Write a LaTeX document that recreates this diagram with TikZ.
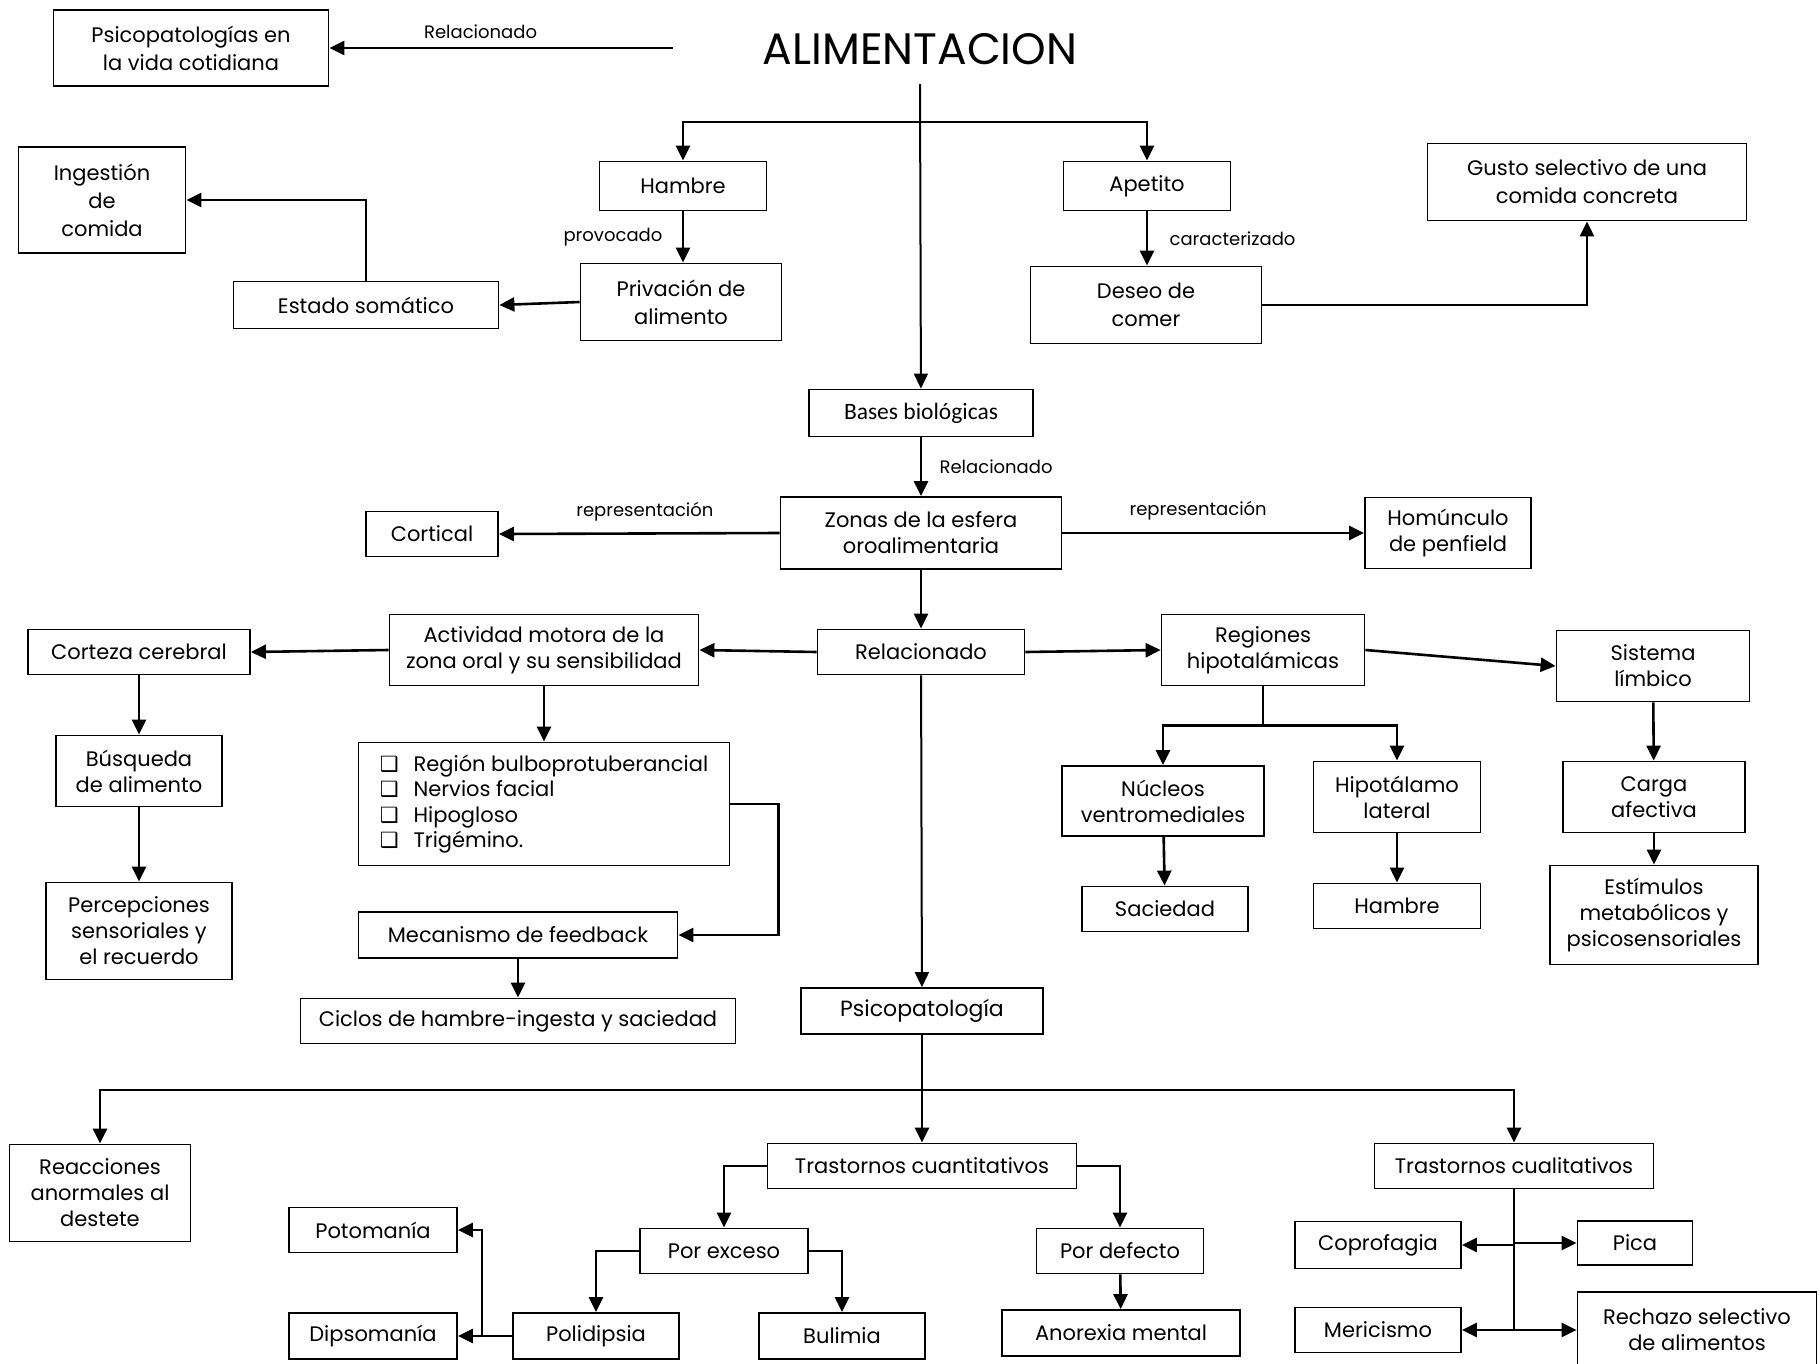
\documentclass[tikz,border=0pt]{standalone}
\usepackage{fontspec}
\setmainfont{Poppins}
\newfontfamily\carlito{Carlito}
\newfontfamily\simbolos{DejaVu Sans}
\usetikzlibrary{arrows.meta}

\tikzset{
  caja/.style={draw, line width=1.8pt, align=center, inner sep=2pt, font=\fontsize{21}{28}\selectfont},
  etiqueta/.style={font=\fontsize{18}{21}\selectfont},
  flecha/.style={line width=2.6pt, -{Triangle[length=15pt,width=14pt]}},
  linea/.style={line width=2.6pt},
}
\newcommand{\cuadro}{{\simbolos\fontsize{21}{21}\selectfont ❑}\hspace{15pt}}

\begin{document}
\begin{tikzpicture}[x=1pt,y=-1pt]
	\useasboundingbox (0,0) rectangle (1820,1363);
	%% titulo y parte de arriba
	\node[font=\fontsize{44}{50}\selectfont] (titulo) at (920,49) {ALIMENTACION};
	\node[caja, minimum width=275, minimum height=76] (psicovida) at (191,48) {Psicopatologías en\\la vida cotidiana};
	\node[caja, minimum width=167, minimum height=49] (hambre) at (683,186) {Hambre};
	\node[caja, minimum width=167, minimum height=49] (apetito) at (1147,186) {Apetito};
	\node[caja, minimum width=201, minimum height=77] (privacion) at (681,302) {Privación de\\alimento};
	\node[caja, minimum width=265, minimum height=47] (estado) at (366,305) {Estado somático};
	\node[caja, minimum width=167, minimum height=106] (ingestion) at (102,200) {Ingestión\\de\\comida};
	\node[caja, minimum width=231, minimum height=77] (deseo) at (1146,305) {Deseo de\\comer};
	\node[caja, minimum width=319, minimum height=77] (gusto) at (1587,182) {Gusto selectivo de una\\comida concreta};
	\node[caja, minimum width=224, minimum height=47, font=\carlito\fontsize{23.5}{27}\selectfont] (bases) at (921,413) {Bases biológicas};
	%% zonas de la esfera
	\node[caja, minimum width=281, minimum height=72, font=\fontsize{21}{26}\selectfont] (zonas) at (921,533) {Zonas de la esfera\\oroalimentaria};
	\node[caja, minimum width=132, minimum height=45] (cortical) at (432,534) {Cortical};
	\node[caja, minimum width=166, minimum height=71, font=\fontsize{21}{26}\selectfont] (homunculo) at (1448,533) {Homúnculo\\de penfield};
	\node[caja, minimum width=207, minimum height=45] (relac) at (921,652) {Relacionado};
	%% lado izquierdo
	\node[caja, minimum width=309, minimum height=71, font=\fontsize{21}{26}\selectfont] (actividad) at (544,650) {Actividad motora de la\\zona oral y su sensibilidad};
	\node[caja, minimum width=222, minimum height=45] (corteza) at (139,652) {Corteza cerebral};
	\node[caja, minimum width=166, minimum height=71, font=\fontsize{21}{26}\selectfont] (busqueda) at (139,771) {Búsqueda\\de alimento};
	\node[caja, minimum width=186, minimum height=97, font=\fontsize{21}{26}\selectfont] (percepciones) at (139,931) {Percepciones\\sensoriales y\\el recuerdo};
	\node[caja, minimum width=371, minimum height=123, align=left, font=\fontsize{21}{25.5}\selectfont] (lista) at (544,804)
	{\cuadro Región bulboprotuberancial\\\cuadro Nervios facial\\\cuadro Hipogloso\\\cuadro Trigémino.};
	\node[caja, minimum width=319, minimum height=46] (feedback) at (518,935) {Mecanismo de feedback};
	\node[caja, minimum width=435, minimum height=45] (ciclos) at (518,1021) {Ciclos de hambre-ingesta y saciedad};
	%% lado derecho
	\node[caja, minimum width=203, minimum height=71, font=\fontsize{21}{26}\selectfont] (regiones) at (1263,650) {Regiones\\hipotalámicas};
	\node[caja, minimum width=193, minimum height=71, font=\fontsize{21}{26}\selectfont] (limbico) at (1653,666) {Sistema\\límbico};
	\node[caja, minimum width=202, minimum height=70, font=\fontsize{21}{26}\selectfont] (nucleos) at (1163,801) {Núcleos\\ventromediales};
	\node[caja, minimum width=167, minimum height=71, font=\fontsize{21}{26}\selectfont] (hipotalamo) at (1397,797) {Hipotálamo\\lateral};
	\node[caja, minimum width=166, minimum height=45] (saciedad) at (1165,909) {Saciedad};
	\node[caja, minimum width=167, minimum height=45] (hambreb) at (1397,906) {Hambre};
	\node[caja, minimum width=182, minimum height=71, font=\fontsize{21}{26}\selectfont] (carga) at (1654,797) {Carga\\afectiva};
	\node[caja, minimum width=208, minimum height=99, font=\fontsize{21}{26}\selectfont] (estimulos) at (1654,915) {Estímulos\\metabólicos y\\psicosensoriales};
	%% psicopatologia
	\node[caja, minimum width=242, minimum height=46, font=\fontsize{22}{26}\selectfont] (psicopat) at (922,1011) {Psicopatología};
	\node[caja, minimum width=181, minimum height=97, font=\fontsize{21}{26}\selectfont] (reacciones) at (100,1193) {Reacciones\\anormales al\\destete};
	\node[caja, minimum width=309, minimum height=45] (cuanti) at (922,1166) {Trastornos cuantitativos};
	\node[caja, minimum width=279, minimum height=45] (cuali) at (1514,1166) {Trastornos cualitativos};
	\node[caja, minimum width=168, minimum height=45] (exceso) at (724,1251) {Por exceso};
	\node[caja, minimum width=167, minimum height=45] (defecto) at (1120,1251) {Por defecto};
	\node[caja, minimum width=238, minimum height=46] (anorexia) at (1121,1333) {Anorexia mental};
	\node[caja, minimum width=166, minimum height=46] (polidipsia) at (596,1336) {Polidipsia};
	\node[caja, minimum width=166, minimum height=46] (bulimia) at (842,1336) {Bulimia};
	\node[caja, minimum width=168, minimum height=45] (potomania) at (373,1230) {Potomanía};
	\node[caja, minimum width=168, minimum height=46] (dipsomania) at (373,1336) {Dipsomanía};
	\node[caja, minimum width=166, minimum height=47] (coprofagia) at (1378,1245) {Coprofagia};
	\node[caja, minimum width=115, minimum height=44] (pica) at (1635,1243) {Pica};
	\node[caja, minimum width=166, minimum height=45] (mericismo) at (1378,1330) {Mericismo};
	\node[caja, minimum width=239, minimum height=76, font=\fontsize{21}{26}\selectfont] (rechazo) at (1697,1330) {Rechazo selectivo\\de alimentos};

	%% flechas de arriba
	\coordinate (inicio) at (673,48);
	\coordinate (tronco) at (920,84);
	\coordinate (rama) at (920,122);
	\draw[flecha] (inicio) -- node[etiqueta, pos=0.56, above=5pt] {Relacionado} (psicovida);
	\draw[flecha, line width=2pt] (tronco) -- (bases);
	\draw[flecha] (rama) -| (hambre);
	\draw[flecha] (rama) -| (apetito);
	\draw[flecha] (hambre) -- node[etiqueta, left=16pt] {provocado} (hambre |- privacion.north);
	\draw[flecha] (privacion.west) -- (estado.east);
	\draw[flecha] (estado.north) |- (ingestion.east);
	\draw[flecha] (apetito) -- node[etiqueta, right=18pt] {caracterizado} (apetito |- deseo.north);
	\draw[flecha] (deseo.east) -| (gusto.south);
	%% flechas del centro
	\draw[flecha] (bases) -- node[etiqueta, right=14pt] {Relacionado} (zonas);
	\draw[flecha] (zonas.west) -- node[etiqueta, pos=0.48, above=8pt] {representación} (cortical.east);
	\draw[flecha] (zonas.east) -- node[etiqueta, pos=0.45, above=8pt] {representación} (homunculo.west);
	\draw[flecha] (zonas) -- (relac);
	\draw[flecha] (relac.west) -- (actividad.east);
	\draw[flecha] (actividad.west) -- (corteza.east);
	\draw[flecha] (corteza) -- (busqueda);
	\draw[flecha] (busqueda) -- (percepciones);
	\draw[flecha] (actividad) -- (lista);
	\draw[flecha] (lista.east) -- ++(48,0) |- (feedback.east);
	\draw[flecha] (feedback) -- (ciclos);
	\draw[flecha] (relac.east) -- (regiones.west);
	\draw[flecha] (regiones.east) -- (limbico.west);
	\draw[linea] (regiones.south) -- ++(0,39) coordinate (rama2);
	\draw[flecha] (rama2) -| (nucleos);
	\draw[flecha] (rama2) -| (hipotalamo);
	\draw[flecha] (nucleos) -- (saciedad);
	\draw[flecha] (hipotalamo) -- (hambreb);
	\draw[flecha] (limbico) -- (carga);
	\draw[flecha] (carga) -- (estimulos);
	\draw[flecha, line width=2pt] (relac) -- (psicopat);
	%% flechas de abajo
	\draw[linea] (psicopat.south) -- ++(0,55) coordinate (rama3);
	\draw[flecha] (rama3) -| (reacciones);
	\draw[flecha] (rama3) -- (cuanti);
	\draw[flecha] (rama3) -| (cuali);
	\draw[flecha] (cuanti.west) -| (exceso);
	\draw[flecha] (cuanti.east) -| (defecto);
	\draw[flecha] (defecto) -- (anorexia);
	\draw[flecha] (exceso.west) -| (polidipsia);
	\draw[flecha] (exceso.east) -| (bulimia);
	\draw[flecha] (polidipsia.west) -- (dipsomania.east);
	\draw[flecha] (polidipsia.west) -- ++(-30,0) |- (potomania.east);
	\draw[linea] (cuali.south) -- (cuali.south |- mericismo.east);
	\draw[flecha] (cuali.south |- coprofagia.east) -- (coprofagia.east);
	\draw[flecha] (cuali.south |- pica.west) -- (pica.west);
	\draw[flecha] (cuali.south |- mericismo.east) -- (mericismo.east);
	\draw[flecha] (cuali.south |- rechazo.west) -- (rechazo.west);
\end{tikzpicture}
\end{document}
